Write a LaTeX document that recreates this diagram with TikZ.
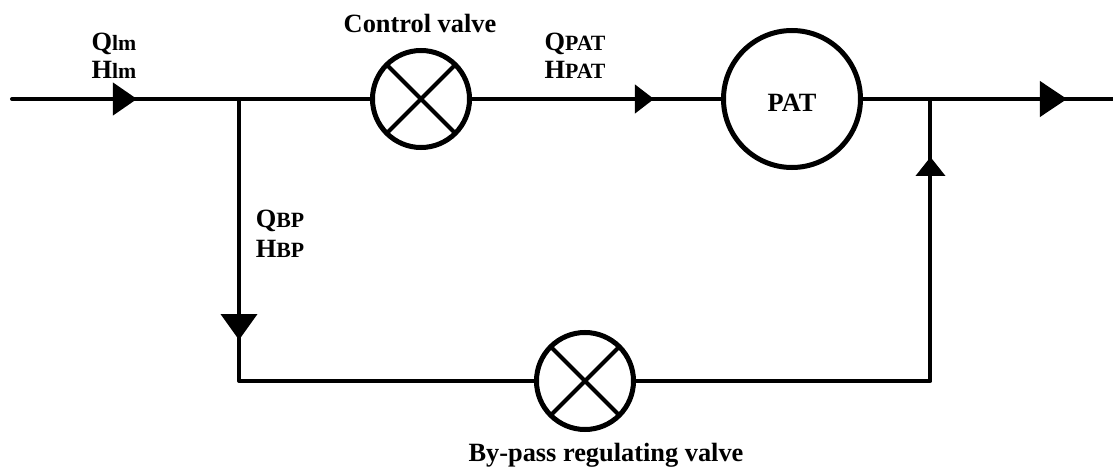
\documentclass[tikz,border=0pt]{standalone}
\usepackage{fontspec}
\setmainfont{Liberation Serif}
\usetikzlibrary{arrows.meta}
\newcommand{\flowlabel}[2]{#1{\fontsize{6.2}{8}\selectfont #2}}
\tikzset{
    pipe/.style={line width=0.04cm},
    flow/.style 2 args={pipe, -{Triangle[length=#1cm, width=#2cm]}},
    valve/.style={draw, circle, line width=0.05cm, inner sep=0pt, outer sep=0pt, minimum size=0.97cm},
    label/.style={font=\bfseries\fontsize{7.5}{8}\selectfont}
}
\begin{document}
\begin{tikzpicture}[x=1cm,y=1cm, every node/.style={font=\fontsize{7.5}{8}\selectfont}]
    \useasboundingbox (0,0) rectangle (11.13,4.70);
    % units
    \node[valve] (control) at (4.21,3.71) {};
    \node[valve, minimum size=1.37cm] (pat) at (7.92,3.71) {};
    \node[valve] (bypass) at (5.85,0.89) {};
    \draw[pipe] (control.45) -- (control.225);
    \draw[pipe] (control.135) -- (control.315);
    \draw[pipe] (bypass.45) -- (bypass.225);
    \draw[pipe] (bypass.135) -- (bypass.315);
    % pipe points
    \coordinate (in) at (0.12,3.71);
    \coordinate (inflow) at (1.37,3.71);
    \coordinate (split) at (2.39,3.71);
    \coordinate (patflow) at (6.54,3.71);
    \coordinate (merge) at (9.305,3.71);
    \coordinate (outflow) at (10.67,3.71);
    \coordinate (out) at (11.13,3.71);
    \coordinate (downflow) at (2.39,1.30);
    \coordinate (cornerl) at (2.39,0.89);
    \coordinate (cornerr) at (9.305,0.89);
    \coordinate (upflow) at (9.305,3.13);
    % main line
    \draw[pipe, line cap=round] (in) -- (control);
    \draw[pipe] (control) -- (pat);
    \draw[pipe] (pat) -- (out);
    \draw[flow={0.24}{0.32}] (in) -- (inflow);
    \draw[flow={0.19}{0.28}] (control) -- (patflow);
    \draw[flow={0.27}{0.35}] (merge) -- (outflow);
    % by-pass line
    \draw[pipe, line join=round] (split) -- (cornerl) -- (bypass);
    \draw[pipe, line join=round] (bypass) -- (cornerr) -- (merge);
    \draw[flow={0.26}{0.36}] (split) -- (downflow);
    \draw[flow={0.19}{0.29}] (cornerr) -- (upflow);
    % labels
    \node[label] (controltext) at (4.20,4.47) {Control valve};
    \node[label] (bypasstext) at (6.06,0.15) {By-pass regulating valve};
    \node[label] (pattext) at (7.92,3.67) {PAT};
    \node[label, align=center, inner sep=0pt] (lmtext) at (1.14,4.14) {\flowlabel{Q}{lm}\\\flowlabel{H}{lm}};
    \node[label, align=center, inner sep=0pt] (qpattext) at (5.75,4.14) {\flowlabel{Q}{PAT}\\\flowlabel{H}{PAT}};
    \node[label, align=center, inner sep=0pt] (bptext) at (2.80,2.36) {\flowlabel{Q}{BP}\\[0.7pt]\flowlabel{H}{BP}};
\end{tikzpicture}
\end{document}
